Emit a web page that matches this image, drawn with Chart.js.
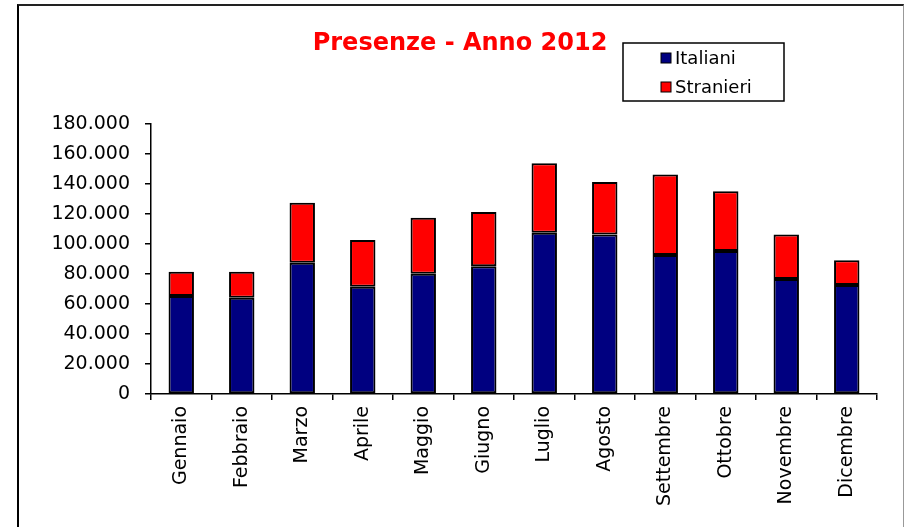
<!DOCTYPE html>
<html>
<head>
<meta charset="utf-8">
<script src="https://cdn.jsdelivr.net/npm/chart.js@4"></script>
<style>
  body { margin: 0; background: #fff; }
  #wrap { position: relative; width: 904px; height: 527px; }
  #frame {
    position: absolute; left: 17px; top: 4px; width: 884px; height: 540px;
    border-left: 2px solid #000; border-top: 2px solid #222; border-right: 1px solid #999;
  }
  canvas { position: absolute; left: 0; top: 0; }
</style>
</head>
<body>
<div id="wrap">
  <div id="frame"></div>
  <canvas id="presenzeChart" width="904" height="527"></canvas>
</div>
<script>
const mesi = ['Gennaio', 'Febbraio', 'Marzo', 'Aprile', 'Maggio', 'Giugno',
              'Luglio', 'Agosto', 'Settembre', 'Ottobre', 'Novembre', 'Dicembre'];
const italiani = [65300, 64200, 87500, 71500, 80200, 85100, 107500, 106400, 92700, 95300, 76700, 72700];
const stranieri = [16200, 17300, 40000, 31200, 37300, 36200, 46300, 34900, 53700, 39800, 29700, 16400];
const titolo = 'Presenze - Anno 2012';

const FONT = 'DejaVu Sans';

// thousands separator with a dot, like the original
function formatta(v) {
    return String(v).replace(/\B(?=(\d{3})+(?!\d))/g, '.');
}

// title and boxed legend, placed like the original sheet
const titleLegend = {
    id: 'titleLegend',
    afterDraw(chart) {
        const c = chart.ctx;
        c.save();
        c.fillStyle = '#ff0000';
        c.font = 'bold 24px "' + FONT + '"';
        c.textAlign = 'center';
        c.textBaseline = 'middle';
        c.fillText(titolo, 460, 44);

        c.strokeStyle = '#000';
        c.lineWidth = 1.5;
        c.strokeRect(623, 43, 161, 58);
        c.font = '18px "' + FONT + '"';
        c.textAlign = 'left';
        chart.data.datasets.forEach((ds, i) => {
            const y = 58 + i * 29;
            c.fillStyle = ds.backgroundColor;
            c.fillRect(661, y - 5, 10, 10);
            c.lineWidth = 1;
            c.strokeRect(661, y - 5, 10, 10);
            c.fillStyle = '#000';
            c.fillText(ds.label, 675, y + 1);
        });
        c.restore();
    }
};

const ctx = document.getElementById('presenzeChart');
const presenzeChart = new Chart(ctx, {
    type: 'bar',
    data: {
        labels: mesi,
        datasets: [{
            label: 'Italiani',
            data: italiani,
            backgroundColor: '#000080',
            borderColor: '#000',
            borderWidth: 2,
            borderSkipped: false
        }, {
            label: 'Stranieri',
            data: stranieri,
            backgroundColor: '#ff0000',
            borderColor: '#000',
            borderWidth: 2,
            borderSkipped: false
        }]
    },
    options: {
        responsive: false,
        animation: false,
        layout: { padding: { left: 0, top: 124, right: 27, bottom: 0 } },
        datasets: { bar: { categoryPercentage: 1, barPercentage: 0.42 } },
        plugins: {
            legend: { display: false },
            title: { display: false },
            tooltip: { enabled: false }
        },
        scales: {
            x: {
                stacked: true,
                border: { color: '#000', width: 1.5 },
                grid: { drawOnChartArea: false, color: '#000', tickLength: 6, lineWidth: 1.5 },
                ticks: {
                    color: '#000', minRotation: 90, maxRotation: 90, padding: 6,
                    font: { family: FONT, size: 19 }
                },
                afterFit(scale) { scale.height = 133; }
            },
            y: {
                stacked: true,
                min: 0,
                max: 180000,
                border: { color: '#000', width: 1.5 },
                grid: { drawOnChartArea: false, color: '#000', tickLength: 6, lineWidth: 1.5 },
                ticks: {
                    stepSize: 20000, color: '#000', padding: 15,
                    font: { family: FONT, size: 19 },
                    callback: (v) => formatta(v)
                },
                afterFit(scale) { scale.width = 151; }
            }
        }
    },
    plugins: [titleLegend]
});
</script>
</body>
</html>
